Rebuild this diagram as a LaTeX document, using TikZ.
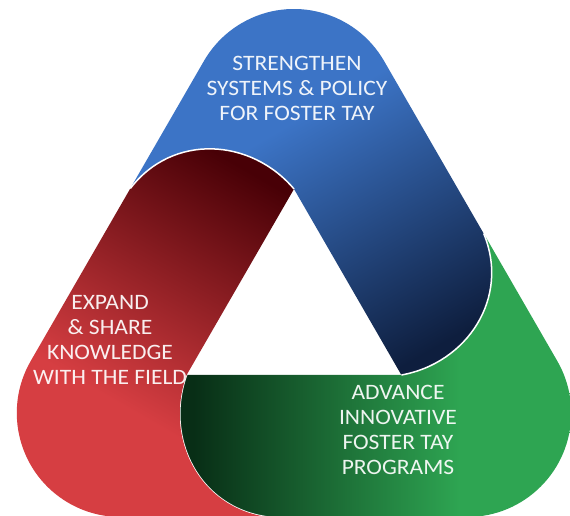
\documentclass[tikz,border=0pt]{standalone}
\usepackage{fontspec}
\setmainfont{Carlito}
\newfontfamily\lblfont{Carlito}[FakeStretch=1.07]
\definecolor{gdark}{RGB}{8,46,22}
\definecolor{gbright}{RGB}{46,165,82}
\definecolor{bdark}{RGB}{14,30,62}
\definecolor{bbright}{RGB}{60,116,198}
\definecolor{rdark}{RGB}{72,0,6}
\definecolor{rbright}{RGB}{214,62,66}
\pgfdeclarehorizontalshading{gshade}{100bp}{color(0bp)=(gdark); color(33.3bp)=(gdark); color(55.5bp)=(gbright); color(100bp)=(gbright)}
\pgfdeclarehorizontalshading{bshade}{100bp}{color(0bp)=(bdark); color(33.3bp)=(bdark); color(55.5bp)=(bbright); color(100bp)=(bbright)}
\pgfdeclarehorizontalshading{rshade}{100bp}{color(0bp)=(rdark); color(33.3bp)=(rdark); color(55.5bp)=(rbright); color(100bp)=(rbright)}
\tikzset{
  capline/.style={draw=white, line width=1.5pt},
  lbl/.style={text=white, text opacity=0.92, align=center, inner sep=0pt,
    font=\lblfont\fontsize{22}{25}\selectfont}
}
\newcommand\bandpiece[2]{%
  \begin{scope}[transform canvas={shift={(294pt,203pt)},rotate=#1}]
    \begin{scope}
      \clip (-107.4,-62) .. controls (-130,-125) and (-95,-195) .. (-26,-204)
        -- (173.2,-204) arc[start angle=-90,end angle=30,radius=104]
        -- (189.7,79.5) .. controls (216.4,15.2) and (173.25,-50.1) .. (107.4,-62) -- cycle;
      \shade[shading=#2] (-200,-220) rectangle (400,220);
    \end{scope}
    \draw[capline] (-107.4,-62) .. controls (-130,-125) and (-95,-195) .. (-26,-204);
  \end{scope}}
\begin{document}
\begin{tikzpicture}[x=1pt,y=1pt]
\useasboundingbox (0,0) rectangle (570,516);
\fill[white] (0,0) rectangle (570,516);
\bandpiece{0}{gshade}
\bandpiece{120}{bshade}
\bandpiece{240}{rshade}
\node[lbl] (strengthen) at (297,428) {STRENGTHEN\\SYSTEMS \& POLICY\\FOR FOSTER TAY};
\node[lbl] (expand) at (110,176) {EXPAND\\\& SHARE\\KNOWLEDGE\\WITH THE FIELD};
\node[lbl] (advance) at (398,86) {ADVANCE\\INNOVATIVE\\FOSTER TAY\\PROGRAMS};
\end{tikzpicture}
\end{document}
